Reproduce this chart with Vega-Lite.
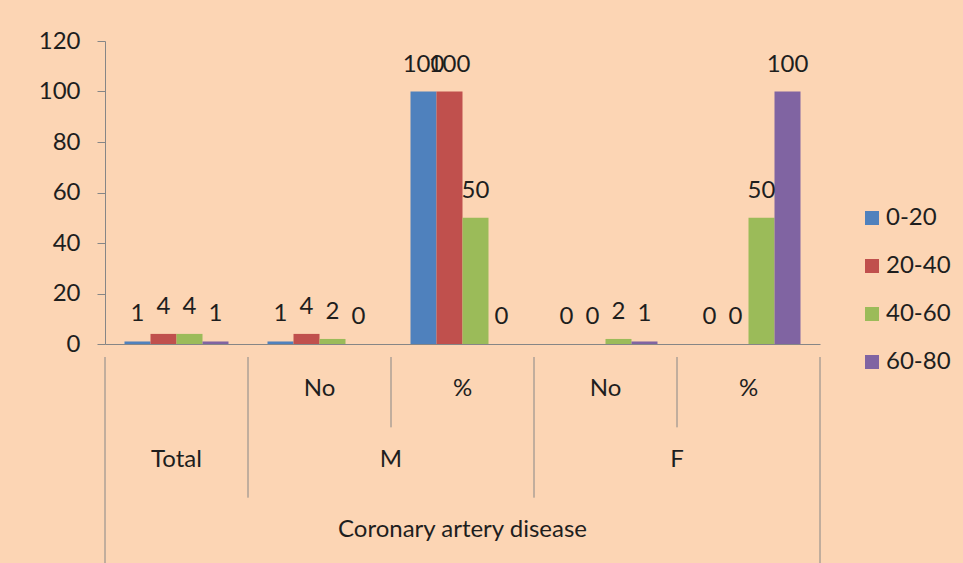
{
  "$schema": "https://vega.github.io/schema/vega-lite/v6.json",
  "background": "#FCD5B4",
  "padding": {"left": 38, "top": 29, "right": 16, "bottom": 8},
  "spacing": 0,
  "config": {
    "view": {"stroke": null},
    "font": "Lato",
    "text": {"font": "Lato", "color": "#1E1E1E"},
    "axis": {"labelFont": "Lato", "labelColor": "#1E1E1E", "domainColor": "#868686", "tickColor": "#868686"},
    "legend": {"labelFont": "Lato", "labelColor": "#1E1E1E"}
  },
  "datasets": {
    "bars": [
      {"cat": "Total", "age": "0-20", "value": 1},
      {"cat": "Total", "age": "20-40", "value": 4},
      {"cat": "Total", "age": "40-60", "value": 4},
      {"cat": "Total", "age": "60-80", "value": 1},
      {"cat": "M|No", "age": "0-20", "value": 1},
      {"cat": "M|No", "age": "20-40", "value": 4},
      {"cat": "M|No", "age": "40-60", "value": 2},
      {"cat": "M|No", "age": "60-80", "value": 0},
      {"cat": "M|%", "age": "0-20", "value": 100},
      {"cat": "M|%", "age": "20-40", "value": 100},
      {"cat": "M|%", "age": "40-60", "value": 50},
      {"cat": "M|%", "age": "60-80", "value": 0},
      {"cat": "F|No", "age": "0-20", "value": 0},
      {"cat": "F|No", "age": "20-40", "value": 0},
      {"cat": "F|No", "age": "40-60", "value": 2},
      {"cat": "F|No", "age": "60-80", "value": 1},
      {"cat": "F|%", "age": "0-20", "value": 0},
      {"cat": "F|%", "age": "20-40", "value": 0},
      {"cat": "F|%", "age": "40-60", "value": 50},
      {"cat": "F|%", "age": "60-80", "value": 100}
    ],
    "centerLabels": [
      {"cat": "M|No", "level": "L1", "text": "No"},
      {"cat": "M|%", "level": "L1", "text": "%"},
      {"cat": "F|No", "level": "L1", "text": "No"},
      {"cat": "F|%", "level": "L1", "text": "%"},
      {"cat": "Total", "level": "L2", "text": "Total"},
      {"cat": "M|%", "level": "L3", "text": "Coronary artery disease"}
    ],
    "groupLabels": [
      {"cat": "M|%", "level": "L2", "text": "M"},
      {"cat": "F|%", "level": "L2", "text": "F"}
    ],
    "separators": [
      {"cat": "Total", "from": "L1", "to": "L3"},
      {"cat": "M|No", "from": "L1", "to": "L2"},
      {"cat": "M|%", "from": "L1", "to": "L1"},
      {"cat": "F|No", "from": "L1", "to": "L2"},
      {"cat": "F|%", "from": "L1", "to": "L1"}
    ],
    "rightEdge": [
      {"cat": "F|%", "from": "L1", "to": "L3"}
    ]
  },
  "vconcat": [
    {
      "width": 715,
      "height": 303,
      "data": {"name": "bars"},
      "encoding": {
        "x": {
          "field": "cat", "type": "nominal",
          "sort": ["Total", "M|No", "M|%", "F|No", "F|%"],
          "scale": {"type": "band", "domain": ["Total", "M|No", "M|%", "F|No", "F|%"], "paddingInner": 0, "paddingOuter": 0},
          "axis": {"labels": false, "ticks": false, "title": null, "grid": false, "domainColor": "#868686"}
        },
        "xOffset": {
          "field": "age", "type": "nominal",
          "sort": ["0-20", "20-40", "40-60", "60-80"],
          "scale": {"paddingInner": 0, "paddingOuter": 0.75}
        },
        "y": {
          "field": "value", "type": "quantitative",
          "scale": {"domain": [0, 120], "nice": false},
          "axis": {"values": [0, 20, 40, 60, 80, 100, 120], "title": null, "grid": false, "tickSize": 8, "labelPadding": 17, "labelFontSize": 24}
        }
      },
      "layer": [
        {
          "mark": {"type": "bar"},
          "encoding": {
            "color": {
              "field": "age", "type": "nominal",
              "sort": ["0-20", "20-40", "40-60", "60-80"],
              "scale": {"domain": ["0-20", "20-40", "40-60", "60-80"], "range": ["#4F81BD", "#C0504D", "#9BBB59", "#8064A2"]},
              "legend": {"title": null, "orient": "none", "legendX": 755, "legendY": 165, "symbolType": "square", "symbolSize": 196, "symbolStrokeWidth": 0, "labelFontSize": 24, "rowPadding": 24, "labelOffset": 2}
            }
          }
        },
        {
          "mark": {"type": "text", "baseline": "middle", "dy": -27, "fontSize": 24},
          "encoding": {"text": {"field": "value", "type": "quantitative"}}
        }
      ]
    },
    {
      "width": 715,
      "height": 211,
      "encoding": {
        "x": {"field": "cat", "type": "nominal", "scale": {"type": "band", "domain": ["Total", "M|No", "M|%", "F|No", "F|%"], "paddingInner": 0, "paddingOuter": 0}, "axis": null}
      },
      "layer": [
        {
          "data": {"name": "centerLabels"},
          "mark": {"type": "text", "fontSize": 24, "dy": -3},
          "encoding": {
            "x": {"field": "cat", "type": "nominal", "bandPosition": 0.5, "axis": null},
            "y": {"field": "level", "type": "nominal", "bandPosition": 0.5, "scale": {"type": "band", "domain": ["L1", "L2", "L3"], "paddingInner": 0, "paddingOuter": 0}, "axis": null},
            "text": {"field": "text"}
          }
        },
        {
          "data": {"name": "groupLabels"},
          "mark": {"type": "text", "fontSize": 24, "dy": -3},
          "encoding": {
            "x": {"field": "cat", "type": "nominal", "bandPosition": 0, "axis": null},
            "y": {"field": "level", "type": "nominal", "bandPosition": 0.5, "scale": {"type": "band", "domain": ["L1", "L2", "L3"], "paddingInner": 0, "paddingOuter": 0}, "axis": null},
            "text": {"field": "text"}
          }
        },
        {
          "data": {"name": "separators"},
          "mark": {"type": "rule", "color": "#868686", "strokeWidth": 1},
          "encoding": {
            "x": {"field": "cat", "type": "nominal", "bandPosition": 0, "axis": null},
            "y": {"field": "from", "type": "nominal", "bandPosition": 0, "scale": {"type": "band", "domain": ["L1", "L2", "L3"], "paddingInner": 0, "paddingOuter": 0}, "axis": null},
            "y2": {"field": "to", "bandPosition": 1}
          }
        },
        {
          "data": {"name": "rightEdge"},
          "mark": {"type": "rule", "color": "#868686", "strokeWidth": 1},
          "encoding": {
            "x": {"field": "cat", "type": "nominal", "bandPosition": 1, "axis": null},
            "y": {"field": "from", "type": "nominal", "bandPosition": 0, "scale": {"type": "band", "domain": ["L1", "L2", "L3"], "paddingInner": 0, "paddingOuter": 0}, "axis": null},
            "y2": {"field": "to", "bandPosition": 1}
          }
        }
      ]
    }
  ]
}
